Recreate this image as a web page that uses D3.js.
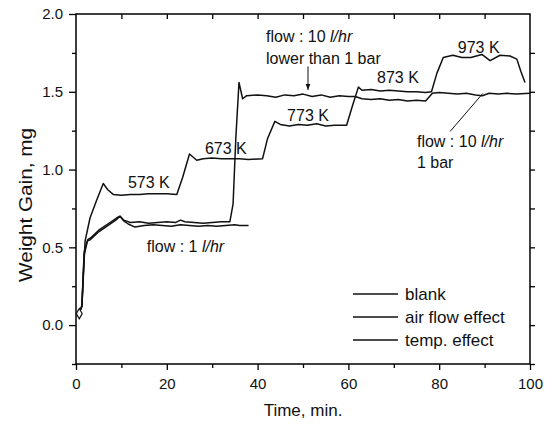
<!DOCTYPE html>
<html>
<head>
<meta charset="utf-8">
<script src="https://cdnjs.cloudflare.com/ajax/libs/d3/7.8.5/d3.min.js"></script>
<style>
  body { margin: 0; background: #fff; }
  svg { display: block; font-family: "Liberation Sans", Arial, sans-serif; }
  .axis-line { stroke: #000; stroke-width: 1.5; fill: none; }
  .series { fill: none; stroke: #111; stroke-width: 1.5; stroke-linejoin: round; }
</style>
</head>
<body>
<svg id="chart" width="556" height="429"></svg>
<script>
// Weight gain data [time (min), weight gain (mg)]
const blank = [
    [0.5, 0.08], [1, 0.1], [1.3, 0.12], [1.8, 0.45], [2.5, 0.54], [3.2, 0.55], [5, 0.6],
    [7, 0.64], [9, 0.68], [9.7, 0.7], [10.5, 0.67], [11.5, 0.65], [13, 0.63], [15, 0.64],
    [17, 0.645], [19, 0.64], [21, 0.635], [23, 0.645], [25, 0.64], [27, 0.635], [29, 0.64],
    [31, 0.635], [33, 0.64], [35, 0.645], [36, 0.64], [38, 0.64]
];
const airFlow = [
    [0.5, 0.09], [1, 0.1], [1.3, 0.13], [1.8, 0.47], [2.6, 0.55], [3.2, 0.56], [5, 0.61],
    [7, 0.65], [9, 0.69], [9.7, 0.7], [10.5, 0.675], [12, 0.66], [14, 0.665], [16, 0.655],
    [18, 0.66], [20, 0.665], [22, 0.66], [23, 0.675], [24, 0.665], [26, 0.66], [28, 0.655],
    [30, 0.66], [32, 0.665], [33.9, 0.665], [34.6, 0.78], [35.2, 1.2], [35.9, 1.56],
    [36.7, 1.455], [37.6, 1.475], [40, 1.48], [42, 1.475], [44, 1.465], [46, 1.48],
    [48, 1.475], [50, 1.485], [52, 1.47], [54, 1.48], [56, 1.465], [58, 1.475], [60, 1.47],
    [61.5, 1.47], [63, 1.455], [65, 1.45], [67, 1.455], [69, 1.445], [71, 1.45], [73, 1.44],
    [75, 1.445], [77, 1.44], [78.5, 1.49], [80, 1.495], [82, 1.49], [84, 1.485], [86, 1.49],
    [88, 1.48], [89.5, 1.475], [91, 1.49], [93, 1.485], [95, 1.49], [97, 1.485], [100, 1.49]
];
const tempEffect = [
    [0.5, 0.08], [1, 0.1], [1.3, 0.12], [2, 0.54], [3.1, 0.69], [4.5, 0.8], [6, 0.91],
    [7, 0.87], [8.2, 0.84], [10, 0.835], [12, 0.84], [14, 0.84], [16, 0.845], [18, 0.845],
    [20, 0.845], [22.2, 0.84], [23.5, 0.95], [25, 1.1], [26.6, 1.06], [28, 1.07], [30, 1.075],
    [32, 1.07], [34, 1.07], [36, 1.07], [38, 1.065], [41.1, 1.07], [42.2, 1.2], [43.8, 1.31],
    [45, 1.29], [47, 1.28], [49, 1.29], [51, 1.285], [53, 1.295], [55, 1.28], [57, 1.285],
    [59.6, 1.285], [61, 1.42], [62.2, 1.53], [63, 1.51], [65, 1.515], [67, 1.505], [69, 1.51],
    [71, 1.505], [73, 1.5], [75, 1.5], [77, 1.495], [78.3, 1.5], [79.5, 1.62], [80.9, 1.72],
    [83, 1.735], [85, 1.72], [87, 1.72], [89.4, 1.74], [91.2, 1.7], [93.4, 1.735],
    [95.6, 1.73], [97.1, 1.71], [98, 1.63], [98.9, 1.56]
];

const seriesNames = ["blank", "air flow effect", "temp. effect"];
const xTicks = [0, 20, 40, 60, 80, 100];
const yTicks = [0.0, 0.5, 1.0, 1.5, 2.0];

// text labels on the plot: [text, x (min), y (mg)]
const notes = [
    ["573 K", 11.45, 0.884], ["673 K", 28.4, 1.103], ["773 K", 46.5, 1.315],
    ["873 K", 66.3, 1.554], ["973 K", 84.1, 1.747],
    ["flow : 1 |l/hr", 15.6, 0.467],
    ["flow : 10 |l/hr", 41.85, 1.82], ["lower than 1 bar", 41.85, 1.68],
    ["flow : 10 |l/hr", 75.1, 1.142], ["1 bar", 75.1, 1.007]
];
// pointer lines: [x1, y1, x2, y2] in data units; first has an arrow head
const arrows = [[51.1, 1.663, 51.1, 1.512]];
const pointers = [[82.4, 1.245, 89.6, 1.489]];

const svg = d3.select("#chart");
const plot = { left: 76, right: 530, top: 14, bottom: 364 };

const x = d3.scaleLinear().domain([0, 100]).range([plot.left, plot.right]);
const y = d3.scaleLinear().domain([-0.25, 2.0]).range([plot.bottom, plot.top]);

svg.append("defs").append("marker")
    .attr("id", "arrow")
    .attr("viewBox", "0 -5 10 10")
    .attr("refX", 10).attr("refY", 0)
    .attr("markerWidth", 6).attr("markerHeight", 6)
    .attr("markerUnits", "userSpaceOnUse")
    .attr("orient", "auto")
    .append("path").attr("d", "M0,-4L10,0L0,4Z").style("fill", "#111");

// Axes: ticks outward on bottom/left, mirrored inward on top/right
function styleAxis(g) {
    g.select(".domain").remove();
    g.selectAll("line").attr("stroke", "#000").attr("stroke-width", 1.3);
    g.selectAll("text").attr("fill", "#111").style("font-size", "15px");
}

svg.append("g").attr("transform", `translate(0,${plot.bottom})`)
    .call(d3.axisBottom(x).tickValues(d3.range(10, 100, 20)).tickSize(4).tickFormat(""))
    .call(styleAxis);
svg.append("g").attr("transform", `translate(0,${plot.bottom})`)
    .call(d3.axisBottom(x).tickValues(xTicks).tickSize(6).tickPadding(8).tickFormat(d3.format("d")))
    .call(styleAxis);
svg.append("g").attr("transform", `translate(0,${plot.top})`)
    .call(d3.axisBottom(x).tickValues(d3.range(10, 100, 10)).tickSize(5).tickFormat(""))
    .call(styleAxis);

svg.append("g").attr("transform", `translate(${plot.left},0)`)
    .call(d3.axisLeft(y).tickValues([-0.25, 0.25, 0.75, 1.25, 1.75]).tickSize(4).tickFormat(""))
    .call(styleAxis);
svg.append("g").attr("transform", `translate(${plot.left},0)`)
    .call(d3.axisLeft(y).tickValues(yTicks).tickSize(7).tickPadding(6).tickFormat(d3.format(".1f")))
    .call(styleAxis);
svg.append("g").attr("transform", `translate(${plot.right},0)`)
    .call(d3.axisLeft(y).tickValues(d3.range(-0.25, 2.0, 0.25)).tickSize(-5).tickFormat(""))
    .call(styleAxis);

svg.append("rect").attr("class", "axis-line")
    .attr("x", plot.left).attr("y", plot.top)
    .attr("width", plot.right - plot.left).attr("height", plot.bottom - plot.top);

// Curves
const line = d3.line().x(d => x(d[0])).y(d => y(d[1]));
svg.append("clipPath").attr("id", "plot-clip")
    .append("rect")
    .attr("x", plot.left).attr("y", plot.top)
    .attr("width", plot.right - plot.left).attr("height", plot.bottom - plot.top);

svg.append("g").attr("clip-path", "url(#plot-clip)")
    .selectAll("path")
    .data([blank, airFlow, tempEffect])
    .enter().append("path")
    .attr("class", "series")
    .attr("d", line);

// small open marker where the runs start
svg.append("path")
    .attr("d", d3.symbol(d3.symbolDiamond, 30)())
    .attr("transform", `translate(${x(blank[0][0]) + 1},${y(blank[0][1]) + 1})`)
    .attr("fill", "#fff").attr("stroke", "#111").attr("stroke-width", 1.2);

// Annotations ("|" splits the upright part from the italic unit)
const noteText = svg.append("g").selectAll("text")
    .data(notes)
    .enter().append("text")
    .attr("x", d => x(d[1]))
    .attr("y", d => y(d[2]))
    .style("font-size", "16px")
    .attr("fill", "#111");
noteText.each(function (d) {
    const parts = d[0].split("|");
    const t = d3.select(this);
    t.append("tspan").text(parts[0]);
    if (parts[1]) t.append("tspan").style("font-style", "italic").text(parts[1]);
});

svg.append("g").selectAll("line")
    .data(arrows)
    .enter().append("line")
    .attr("x1", d => x(d[0])).attr("y1", d => y(d[1]))
    .attr("x2", d => x(d[2])).attr("y2", d => y(d[3]))
    .attr("stroke", "#111").attr("stroke-width", 1)
    .attr("marker-end", "url(#arrow)");
svg.append("g").selectAll("line")
    .data(pointers)
    .enter().append("line")
    .attr("x1", d => x(d[0])).attr("y1", d => y(d[1]))
    .attr("x2", d => x(d[2])).attr("y2", d => y(d[3]))
    .attr("stroke", "#111").attr("stroke-width", 1);

// Legend
const legend = svg.append("g").attr("transform", "translate(353,294)");
const legendItem = legend.selectAll("g")
    .data(seriesNames)
    .enter().append("g")
    .attr("transform", (d, i) => `translate(0,${i * 23})`);
legendItem.append("line")
    .attr("x1", 0).attr("x2", 45)
    .attr("stroke", "#111").attr("stroke-width", 1.5);
legendItem.append("text")
    .attr("x", 52).attr("y", 6)
    .style("font-size", "17px")
    .attr("fill", "#111")
    .text(d => d);

// Axis titles
svg.append("text")
    .attr("x", (plot.left + plot.right) / 2).attr("y", 416)
    .attr("text-anchor", "middle")
    .style("font-size", "17px")
    .attr("fill", "#111")
    .text("Time, min.");
svg.append("text")
    .attr("transform", "translate(32,205) rotate(-90)")
    .attr("text-anchor", "middle")
    .attr("textLength", 154)
    .attr("lengthAdjust", "spacingAndGlyphs")
    .style("font-size", "18px")
    .attr("fill", "#111")
    .text("Weight Gain, mg");
</script>
</body>
</html>
